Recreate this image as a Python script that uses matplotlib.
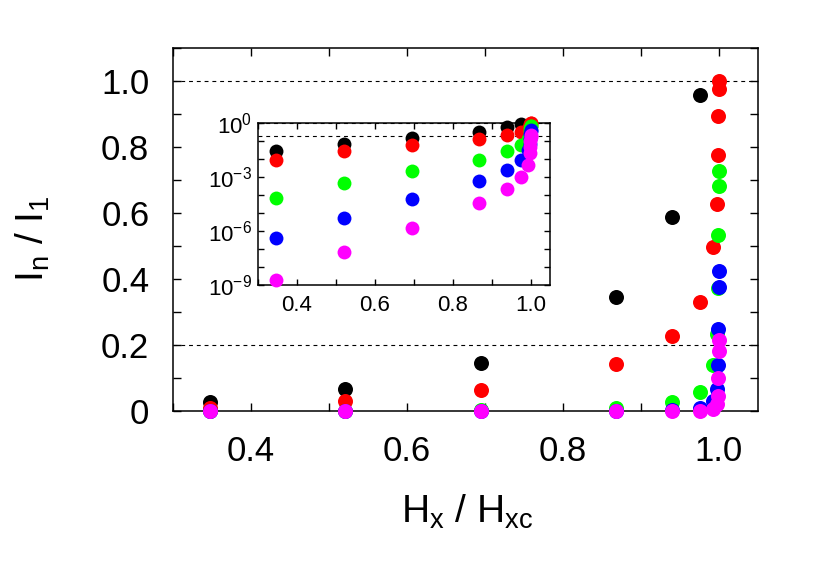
import matplotlib
matplotlib.use("Agg")
import matplotlib.pyplot as plt
from matplotlib.ticker import MultipleLocator, FuncFormatter, LogLocator, NullFormatter
import numpy as np

plt.rcParams['font.family'] = ['Liberation Sans', 'DejaVu Sans']
plt.rcParams['mathtext.fontset'] = 'custom'
plt.rcParams['mathtext.rm'] = 'Liberation Sans'
plt.rcParams['mathtext.it'] = 'Liberation Sans'

# field ratio H_x / H_xc
x_far = [0.347, 0.521, 0.695, 0.868, 0.940, 0.976]
x_near = [0.993, 0.998, 0.999, 0.9995, 0.9998, 1.0]
x_all = x_far + x_near

# harmonic ratios I_n / I_1
black = [0.028, 0.068, 0.145, 0.345, 0.589, 0.958]
red = [0.0096, 0.029, 0.064, 0.142, 0.227, 0.33, 0.497, 0.627, 0.776, 0.894, 0.978, 1.0]
green = [7e-5, 4.9e-4, 2.2e-3, 0.0096, 0.027, 0.059, 0.14, 0.232, 0.372, 0.533, 0.682, 0.728]
blue = [3.9e-7, 5.7e-6, 5.8e-5, 6.3e-4, 2.5e-3, 0.0088, 0.031, 0.068, 0.14, 0.248, 0.376, 0.424]
magenta = [1.9e-9, 6.5e-8, 1.4e-6, 3.5e-5, 2.3e-4, 1.0e-3, 0.005, 0.021, 0.047, 0.099, 0.183, 0.215]

series = [(x_far, black, '#000000'), (x_all, red, '#ff0000'), (x_all, green, '#00ff00'),
          (x_all, blue, '#0000ff'), (x_all, magenta, '#ff00ff')]
ref_lines = [0.2, 1.0]

fig = plt.figure(figsize=(8.3, 5.81), dpi=100)

# main axes
ax = fig.add_axes([0.2084, 0.2926, 0.7045, 0.6243])
for xs, ys, c in series:
    ax.plot(xs, ys, 'o', color=c, markersize=10.8, markeredgewidth=0, clip_on=False, zorder=3)
for y in ref_lines:
    ax.axhline(y, color='black', lw=0.8, linestyle=(0, (3.5, 3.5)), zorder=1)
ax.set_xlim(0.3, 1.05)
ax.set_ylim(0, 1.1)
ax.xaxis.set_major_locator(MultipleLocator(0.2))
ax.xaxis.set_minor_locator(MultipleLocator(0.1))
ax.yaxis.set_major_locator(MultipleLocator(0.2))
ax.yaxis.set_minor_locator(MultipleLocator(0.1))
ax.xaxis.set_major_formatter(FuncFormatter(lambda v, p: f'{v:.1f}'))
ax.yaxis.set_major_formatter(FuncFormatter(lambda v, p: '0' if abs(v) < 1e-9 else f'{v:.1f}'))
ax.tick_params(which='both', direction='in', top=True, right=True, length=6, width=1)
ax.tick_params(axis='x', which='major', labelsize=25, pad=17)
ax.tick_params(axis='y', which='major', labelsize=25, pad=17)
for s in ax.spines.values():
    s.set_linewidth(1.1)

fig.text(0.563, 0.119, r'$\mathregular{H_x\ /\ H_{xc}}$', fontsize=28, ha='center', va='center')
fig.text(0.04, 0.59, r'$\mathregular{I_n\ /\ I_1}$', fontsize=28, ha='center', va='center', rotation=90)

# inset, log scale
ins = fig.add_axes([0.3108, 0.5095, 0.352, 0.2783])
for xs, ys, c in series:
    ins.plot(xs, ys, 'o', color=c, markersize=10.0, markeredgewidth=0, clip_on=False, zorder=3)
for y in ref_lines:
    ins.axhline(y, color='black', lw=0.8, linestyle=(0, (3.5, 3.5)), zorder=1)
ins.set_yscale('log')
ins.set_xlim(0.3, 1.05)
ins.set_ylim(1e-9, 1)
ins.xaxis.set_major_locator(MultipleLocator(0.2))
ins.xaxis.set_minor_locator(MultipleLocator(0.1))
ins.xaxis.set_major_formatter(FuncFormatter(lambda v, p: f'{v:.1f}'))
ins.yaxis.set_major_locator(LogLocator(base=10, numticks=20))
ins.yaxis.set_minor_locator(LogLocator(base=10, subs=(1.0,), numticks=20))
ins.yaxis.set_major_formatter(FuncFormatter(
    lambda v, p: r'$\mathregular{10^{%d}}$' % round(np.log10(v)) if round(np.log10(v)) % 3 == 0 else ''))
ins.yaxis.set_minor_formatter(NullFormatter())
ins.tick_params(which='both', direction='in', top=True, right=True, length=4.5, width=1)
ins.tick_params(axis='x', which='major', labelsize=16, pad=7)
ins.tick_params(axis='y', which='major', labelsize=16, pad=4)
for s in ins.spines.values():
    s.set_linewidth(1.1)

fig.savefig('out.png', dpi=100)
